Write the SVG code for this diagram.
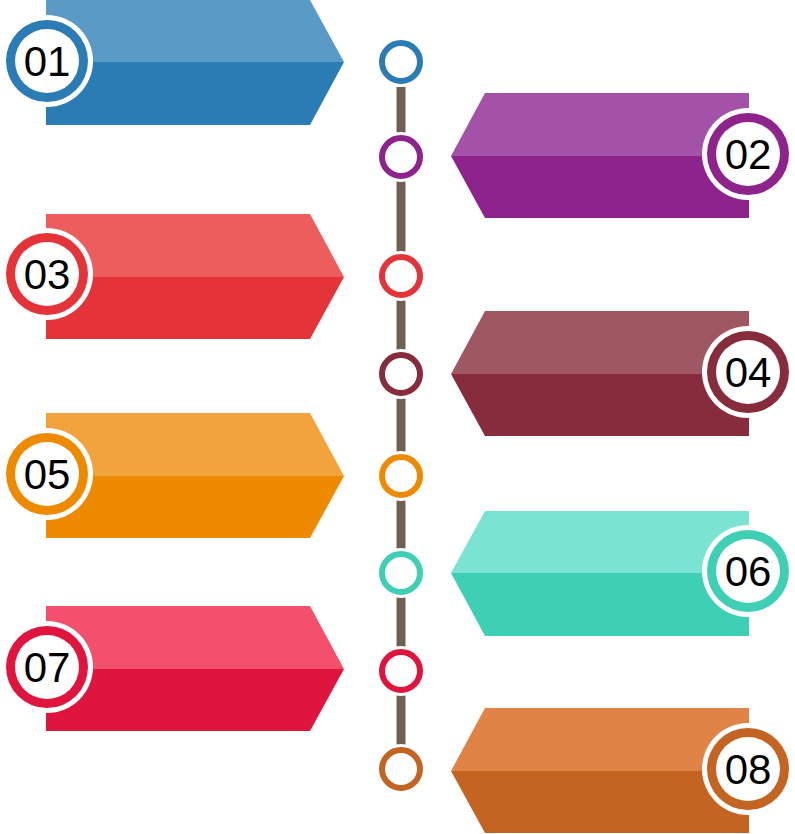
<svg xmlns="http://www.w3.org/2000/svg" width="795" height="834" viewBox="0 0 795 834">
<style>
.num{font-family:"Liberation Sans",Arial,sans-serif;font-size:42px;fill:#000;text-anchor:middle}
.dot{fill:#fff;stroke-width:6}
.halo{fill:#fff}
</style>
<rect width="795" height="834" fill="#fff"/>
<g id="connectors">
<line x1="401" y1="87" x2="401" y2="746" stroke="#6d6252" stroke-width="9"/>
</g>
<g id="timeline-dots">
<circle class="halo" cx="401" cy="62" r="25"/><circle class="dot" cx="401" cy="62" r="19" stroke="#2b7bb4"/>
<circle class="halo" cx="401" cy="157" r="25"/><circle class="dot" cx="401" cy="157" r="19" stroke="#8e238c"/>
<circle class="halo" cx="401" cy="276" r="25"/><circle class="dot" cx="401" cy="276" r="19" stroke="#e4343a"/>
<circle class="halo" cx="401" cy="374" r="25"/><circle class="dot" cx="401" cy="374" r="19" stroke="#862c3c"/>
<circle class="halo" cx="401" cy="476" r="25"/><circle class="dot" cx="401" cy="476" r="19" stroke="#ee8a00"/>
<circle class="halo" cx="401" cy="573" r="25"/><circle class="dot" cx="401" cy="573" r="19" stroke="#3fcfb5"/>
<circle class="halo" cx="401" cy="671" r="25"/><circle class="dot" cx="401" cy="671" r="19" stroke="#e0153d"/>
<circle class="halo" cx="401" cy="769" r="25"/><circle class="dot" cx="401" cy="769" r="19" stroke="#c36422"/>
</g>
<g id="node-01">
<polygon points="46,0 310,0 344,62 46,62" fill="#5a9ac6"/>
<polygon points="46,62 344,62 310,125 46,125" fill="#2b7bb4"/>
<circle cx="47" cy="61" r="46" fill="#fff"/><circle cx="47" cy="61" r="41" fill="#2b7bb4"/><circle cx="47" cy="61" r="32" fill="#fff"/>
<text class="num" x="47" y="76">01</text>
</g>
<g id="node-02">
<polygon points="749,93 485,93 451,156 749,156" fill="#a452a8"/>
<polygon points="749,156 451,156 485,218 749,218" fill="#8e238c"/>
<circle cx="748" cy="154" r="46" fill="#fff"/><circle cx="748" cy="154" r="41" fill="#8e238c"/><circle cx="748" cy="154" r="32" fill="#fff"/>
<text class="num" x="748" y="169">02</text>
</g>
<g id="node-03">
<polygon points="46,214 310,214 344,277 46,277" fill="#ee5d5d"/>
<polygon points="46,277 344,277 310,339 46,339" fill="#e4343a"/>
<circle cx="47" cy="274" r="46" fill="#fff"/><circle cx="47" cy="274" r="41" fill="#e4343a"/><circle cx="47" cy="274" r="32" fill="#fff"/>
<text class="num" x="47" y="289">03</text>
</g>
<g id="node-04">
<polygon points="749,311 485,311 451,374 749,374" fill="#9f5862"/>
<polygon points="749,374 451,374 485,436 749,436" fill="#862c3c"/>
<circle cx="748" cy="372" r="46" fill="#fff"/><circle cx="748" cy="372" r="41" fill="#862c3c"/><circle cx="748" cy="372" r="32" fill="#fff"/>
<text class="num" x="748" y="387">04</text>
</g>
<g id="node-05">
<polygon points="46,413 310,413 344,476 46,476" fill="#f2a33c"/>
<polygon points="46,476 344,476 310,538 46,538" fill="#ee8a00"/>
<circle cx="47" cy="474" r="46" fill="#fff"/><circle cx="47" cy="474" r="41" fill="#ee8a00"/><circle cx="47" cy="474" r="32" fill="#fff"/>
<text class="num" x="47" y="489">05</text>
</g>
<g id="node-06">
<polygon points="749,511 485,511 451,573 749,573" fill="#7be3d2"/>
<polygon points="749,573 451,573 485,636 749,636" fill="#3fcfb5"/>
<circle cx="748" cy="571" r="46" fill="#fff"/><circle cx="748" cy="571" r="41" fill="#3fcfb5"/><circle cx="748" cy="571" r="32" fill="#fff"/>
<text class="num" x="748" y="586">06</text>
</g>
<g id="node-07">
<polygon points="46,606 310,606 344,669 46,669" fill="#f3506e"/>
<polygon points="46,669 344,669 310,731 46,731" fill="#e0153d"/>
<circle cx="47" cy="667" r="46" fill="#fff"/><circle cx="47" cy="667" r="41" fill="#e0153d"/><circle cx="47" cy="667" r="32" fill="#fff"/>
<text class="num" x="47" y="682">07</text>
</g>
<g id="node-08">
<polygon points="749,708 485,708 451,771 749,771" fill="#df8346"/>
<polygon points="749,771 451,771 485,833 749,833" fill="#c36422"/>
<circle cx="748" cy="769" r="46" fill="#fff"/><circle cx="748" cy="769" r="41" fill="#c36422"/><circle cx="748" cy="769" r="32" fill="#fff"/>
<text class="num" x="748" y="784">08</text>
</g>
</svg>
